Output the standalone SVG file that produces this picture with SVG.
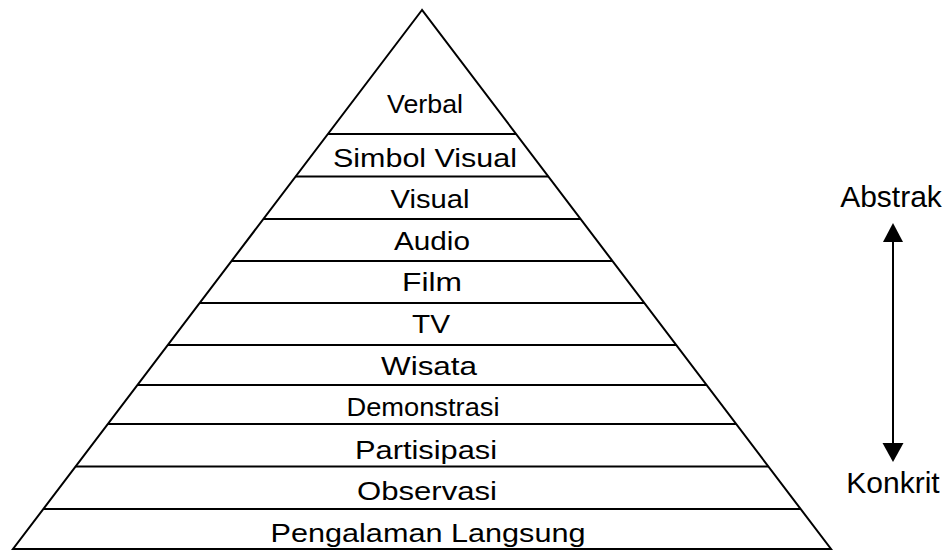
<svg xmlns="http://www.w3.org/2000/svg" width="949" height="551" viewBox="0 0 949 551">
<style>
.ln{stroke:#000;stroke-width:2;fill:none}
.t{font-family:"Liberation Sans",Arial,sans-serif;font-size:25px;fill:#000;text-anchor:middle}
.b{font-size:26px}
.s{font-family:"Liberation Sans",Arial,sans-serif;font-size:30px;fill:#000;text-anchor:middle}
</style>
<rect width="949" height="551" fill="#fff"/>
<g id="pyramid">
<polygon class="ln" points="422,10 13,549 831,549"/>
</g>
<g id="connectors">
<line class="ln" x1="327.97" y1="134" x2="516.03" y2="134"/>
<line class="ln" x1="295.74" y1="176.5" x2="548.26" y2="176.5"/>
<line class="ln" x1="263.51" y1="219" x2="580.49" y2="219"/>
<line class="ln" x1="231.66" y1="261" x2="612.34" y2="261"/>
<line class="ln" x1="199.81" y1="303" x2="644.19" y2="303"/>
<line class="ln" x1="167.96" y1="345" x2="676.04" y2="345"/>
<line class="ln" x1="137.62" y1="385" x2="706.38" y2="385"/>
<line class="ln" x1="108.05" y1="424" x2="735.95" y2="424"/>
<line class="ln" x1="75.82" y1="466.5" x2="768.18" y2="466.5"/>
<line class="ln" x1="43.59" y1="509" x2="800.41" y2="509"/>
<line class="ln" x1="893" y1="240" x2="893" y2="445"/>
<polygon points="893,223 883,242 903,242" fill="#000"/>
<polygon points="893,462 882.5,443 903.5,443" fill="#000"/>
</g>
<g id="n-verbal"><text class="t b" x="425" y="113" textLength="76" lengthAdjust="spacingAndGlyphs">Verbal</text></g>
<g id="n-simbol"><text class="t" x="425" y="167" textLength="184" lengthAdjust="spacingAndGlyphs">Simbol Visual</text></g>
<g id="n-visual"><text class="t" x="430" y="208" textLength="79" lengthAdjust="spacingAndGlyphs">Visual</text></g>
<g id="n-audio"><text class="t" x="432" y="250" textLength="76" lengthAdjust="spacingAndGlyphs">Audio</text></g>
<g id="n-film"><text class="t" x="432" y="291" textLength="60" lengthAdjust="spacingAndGlyphs">Film</text></g>
<g id="n-tv"><text class="t" x="431" y="333" textLength="38" lengthAdjust="spacingAndGlyphs">TV</text></g>
<g id="n-wisata"><text class="t" x="429" y="375" textLength="96" lengthAdjust="spacingAndGlyphs">Wisata</text></g>
<g id="n-demonstrasi"><text class="t b" x="423" y="416" textLength="153" lengthAdjust="spacingAndGlyphs">Demonstrasi</text></g>
<g id="n-partisipasi"><text class="t" x="426" y="459" textLength="142" lengthAdjust="spacingAndGlyphs">Partisipasi</text></g>
<g id="n-observasi"><text class="t" x="427" y="500" textLength="140" lengthAdjust="spacingAndGlyphs">Observasi</text></g>
<g id="n-pengalaman"><text class="t" x="428" y="542" textLength="315" lengthAdjust="spacingAndGlyphs">Pengalaman Langsung</text></g>
<g id="n-abstrak"><text class="s" x="891" y="207">Abstrak</text></g>
<g id="n-konkrit"><text class="s" x="893" y="493">Konkrit</text></g>
</svg>
